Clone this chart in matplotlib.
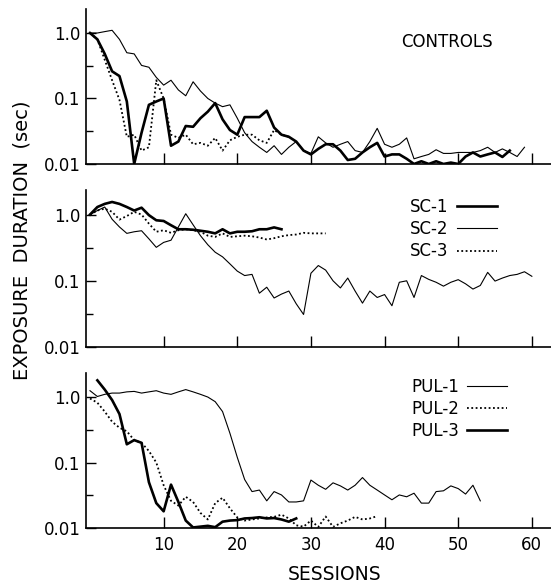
import numpy as np
import matplotlib
matplotlib.use("Agg")
import matplotlib.pyplot as plt
from matplotlib.ticker import FixedLocator, NullFormatter

# exposure duration (sec) per session
# controls (no legend in the original: thin, thick, dotted)
ctrl_thin = [1.0, 1.0, 1.05, 1.1, 0.8, 0.5, 0.48, 0.32, 0.3, 0.21,
             0.16, 0.19, 0.135, 0.11, 0.18, 0.13, 0.1, 0.085, 0.075, 0.08,
             0.05, 0.03, 0.022, 0.018, 0.015, 0.019, 0.014, 0.018, 0.022, 0.016,
             0.0145, 0.026, 0.021, 0.018, 0.02, 0.022, 0.016, 0.015, 0.022, 0.035,
             0.02, 0.018, 0.02, 0.025, 0.012, 0.013, 0.014, 0.0165, 0.0145, 0.0145,
             0.015, 0.015, 0.015, 0.016, 0.018, 0.015, 0.017, 0.015, 0.013, 0.018]
ctrl_thick = [1.0, 0.8, 0.48, 0.26, 0.22, 0.09, 0.01, 0.03, 0.08, 0.09,
              0.1, 0.019, 0.022, 0.038, 0.037, 0.05, 0.063, 0.085, 0.048, 0.033,
              0.028, 0.052, 0.052, 0.052, 0.065, 0.036, 0.028, 0.026, 0.022, 0.016,
              0.014, 0.017, 0.02, 0.02, 0.016, 0.0115, 0.012, 0.015, 0.018, 0.021,
              0.013, 0.014, 0.014, 0.012, 0.01, 0.011, 0.01, 0.011, 0.01, 0.0105,
              0.01, 0.013, 0.015, 0.013, 0.014, 0.015, 0.0128, 0.016]
ctrl_dot = [1.0, 0.8, 0.39, 0.19, 0.095, 0.026, 0.028, 0.016, 0.018, 0.19,
            0.1, 0.028, 0.025, 0.028, 0.02, 0.021, 0.019, 0.025, 0.016, 0.023,
            0.026, 0.028, 0.028, 0.023, 0.021, 0.033, 0.028, 0.026]

sc1 = [1.0, 1.3, 1.45, 1.55, 1.45, 1.3, 1.15, 1.27, 0.98, 0.82,
       0.8, 0.69, 0.6, 0.6, 0.59, 0.57, 0.55, 0.52, 0.6, 0.52,
       0.55, 0.55, 0.56, 0.6, 0.6, 0.64, 0.6]
sc2 = [1.0, 1.15, 1.3, 0.85, 0.65, 0.52, 0.55, 0.57, 0.43, 0.32,
       0.38, 0.41, 0.65, 1.03, 0.7, 0.48, 0.35, 0.27, 0.23, 0.18,
       0.14, 0.12, 0.125, 0.065, 0.08, 0.055, 0.063, 0.07, 0.045, 0.031,
       0.13, 0.17, 0.145, 0.1, 0.078, 0.11, 0.07, 0.046, 0.07, 0.056,
       0.062, 0.042, 0.095, 0.1, 0.056, 0.12, 0.105, 0.095, 0.083, 0.095,
       0.104, 0.09, 0.075, 0.085, 0.134, 0.099, 0.11, 0.12, 0.125, 0.137,
       0.117]
sc3 = [1.0, 1.15, 1.23, 1.1, 0.84, 0.95, 1.1, 1.0, 0.73, 0.55,
       0.58, 0.53, 0.58, 0.6, 0.58, 0.55, 0.48, 0.46, 0.52, 0.46,
       0.47, 0.48, 0.47, 0.45, 0.42, 0.44, 0.47, 0.49, 0.5, 0.53,
       0.52, 0.52, 0.52]

pul1 = [1.25, 1.02, 1.1, 1.15, 1.15, 1.2, 1.22, 1.15, 1.2, 1.25,
        1.15, 1.1, 1.2, 1.3, 1.2, 1.1, 1.0, 0.85, 0.6, 0.28,
        0.12, 0.055, 0.036, 0.038, 0.026, 0.036, 0.032, 0.025, 0.025, 0.026,
        0.054, 0.045, 0.039, 0.049, 0.044, 0.038, 0.045, 0.059, 0.045, 0.038,
        0.032, 0.027, 0.032, 0.03, 0.034, 0.024, 0.024, 0.036, 0.037, 0.044,
        0.04, 0.033, 0.045, 0.026]
pul2 = [0.95, 0.82, 0.6, 0.42, 0.34, 0.3, 0.22, 0.2, 0.15, 0.1,
        0.045, 0.026, 0.022, 0.03, 0.025, 0.017, 0.0135, 0.024, 0.029, 0.02,
        0.0145, 0.013, 0.0135, 0.014, 0.0145, 0.0148, 0.016, 0.014, 0.011, 0.0105,
        0.013, 0.0104, 0.015, 0.0104, 0.0118, 0.013, 0.0148, 0.0135, 0.014, 0.0152]
pul3 = [1.8, 1.3, 0.9, 0.55, 0.19, 0.22, 0.2, 0.05, 0.024,
        0.018, 0.046, 0.025, 0.013, 0.0102, 0.0105, 0.0108, 0.0103, 0.0125, 0.013,
        0.0132, 0.014, 0.0142, 0.0146, 0.014, 0.0142, 0.0135, 0.0125, 0.014]
pul3_start = 1

xticks = [10, 20, 30, 40, 50, 60]

thin = dict(color="black", lw=0.8)
thick = dict(color="black", lw=1.9)
dotted = dict(color="black", lw=1.3, linestyle=(0, (1, 1.4)))

fig = plt.figure(figsize=(5.51, 5.85), dpi=100)
left, width = 0.156, 0.844
ax_top = fig.add_axes([left, 0.7197, width, 0.265])
ax_mid = fig.add_axes([left, 0.4068, width, 0.268])
ax_bot = fig.add_axes([left, 0.0974, width, 0.265])


def style(ax, show_x):
    ax.set_yscale("log")
    ax.set_ylim(0.01, 2.33)
    ax.set_xlim(-0.55, 62.6)
    for s in ["top", "right"]:
        ax.spines[s].set_visible(False)
    for s in ["left", "bottom"]:
        ax.spines[s].set_linewidth(1.2)
    ax.yaxis.set_major_locator(FixedLocator([0.01, 0.1, 1.0]))
    ax.set_yticklabels(["0.01", "0.1", "1.0"])
    ax.yaxis.set_minor_locator(FixedLocator([10 ** -1.5, 10 ** -0.5]))
    ax.yaxis.set_minor_formatter(NullFormatter())
    ax.set_xticks(xticks)
    ax.xaxis.set_minor_locator(FixedLocator([]))
    ax.tick_params(axis="both", which="both", direction="in", width=1.0,
                   labelsize=12, pad=4)
    ax.tick_params(axis="y", which="major", length=7)
    ax.tick_params(axis="y", which="minor", length=5)
    ax.tick_params(axis="x", length=8, pad=6)
    if show_x:
        ax.set_xticklabels([str(t) for t in xticks])
    else:
        ax.set_xticklabels([])


for ax in (ax_top, ax_mid, ax_bot):
    style(ax, ax is ax_bot)

# controls
ax_top.plot(np.arange(len(ctrl_thin)), ctrl_thin, **thin)
ax_top.plot(np.arange(len(ctrl_dot)), ctrl_dot, **dotted)
ax_top.plot(np.arange(len(ctrl_thick)), ctrl_thick, **thick)
ax_top.text(0.776, 0.787, "CONTROLS", transform=ax_top.transAxes,
            ha="center", va="center", fontsize=12)

# SC group
ax_mid.plot(np.arange(len(sc2)), sc2, label="SC-2", **thin)
ax_mid.plot(np.arange(len(sc3)), sc3, label="SC-3", **dotted)
ax_mid.plot(np.arange(len(sc1)), sc1, label="SC-1", **thick)
h, l = ax_mid.get_legend_handles_labels()
order = [l.index(n) for n in ["SC-1", "SC-2", "SC-3"]]
ax_mid.legend([h[i] for i in order], [l[i] for i in order],
              loc="upper left", bbox_to_anchor=(0.697, 0.95), frameon=False,
              markerfirst=False, fontsize=12, handlelength=2.4,
              handletextpad=0.5, labelspacing=0.25, borderpad=0,
              borderaxespad=0)

# PUL group
ax_bot.plot(np.arange(len(pul1)), pul1, label="PUL-1", **thin)
ax_bot.plot(np.arange(len(pul2)), pul2, label="PUL-2", **dotted)
ax_bot.plot(np.arange(pul3_start, pul3_start + len(pul3)), pul3,
            label="PUL-3", **thick)
ax_bot.legend(loc="upper left", bbox_to_anchor=(0.699, 0.968), frameon=False,
              markerfirst=False, fontsize=12, handlelength=2.4,
              handletextpad=0.5, labelspacing=0.25, borderpad=0,
              borderaxespad=0)

fig.text(335 / 551, 1 - 575 / 585, "SESSIONS", ha="center", va="center",
         fontsize=13.5)
fig.text(22 / 551, 1 - 240 / 585, "EXPOSURE  DURATION  (sec)", rotation=90,
         ha="center", va="center", fontsize=14)

fig.savefig("out.png", dpi=100)
